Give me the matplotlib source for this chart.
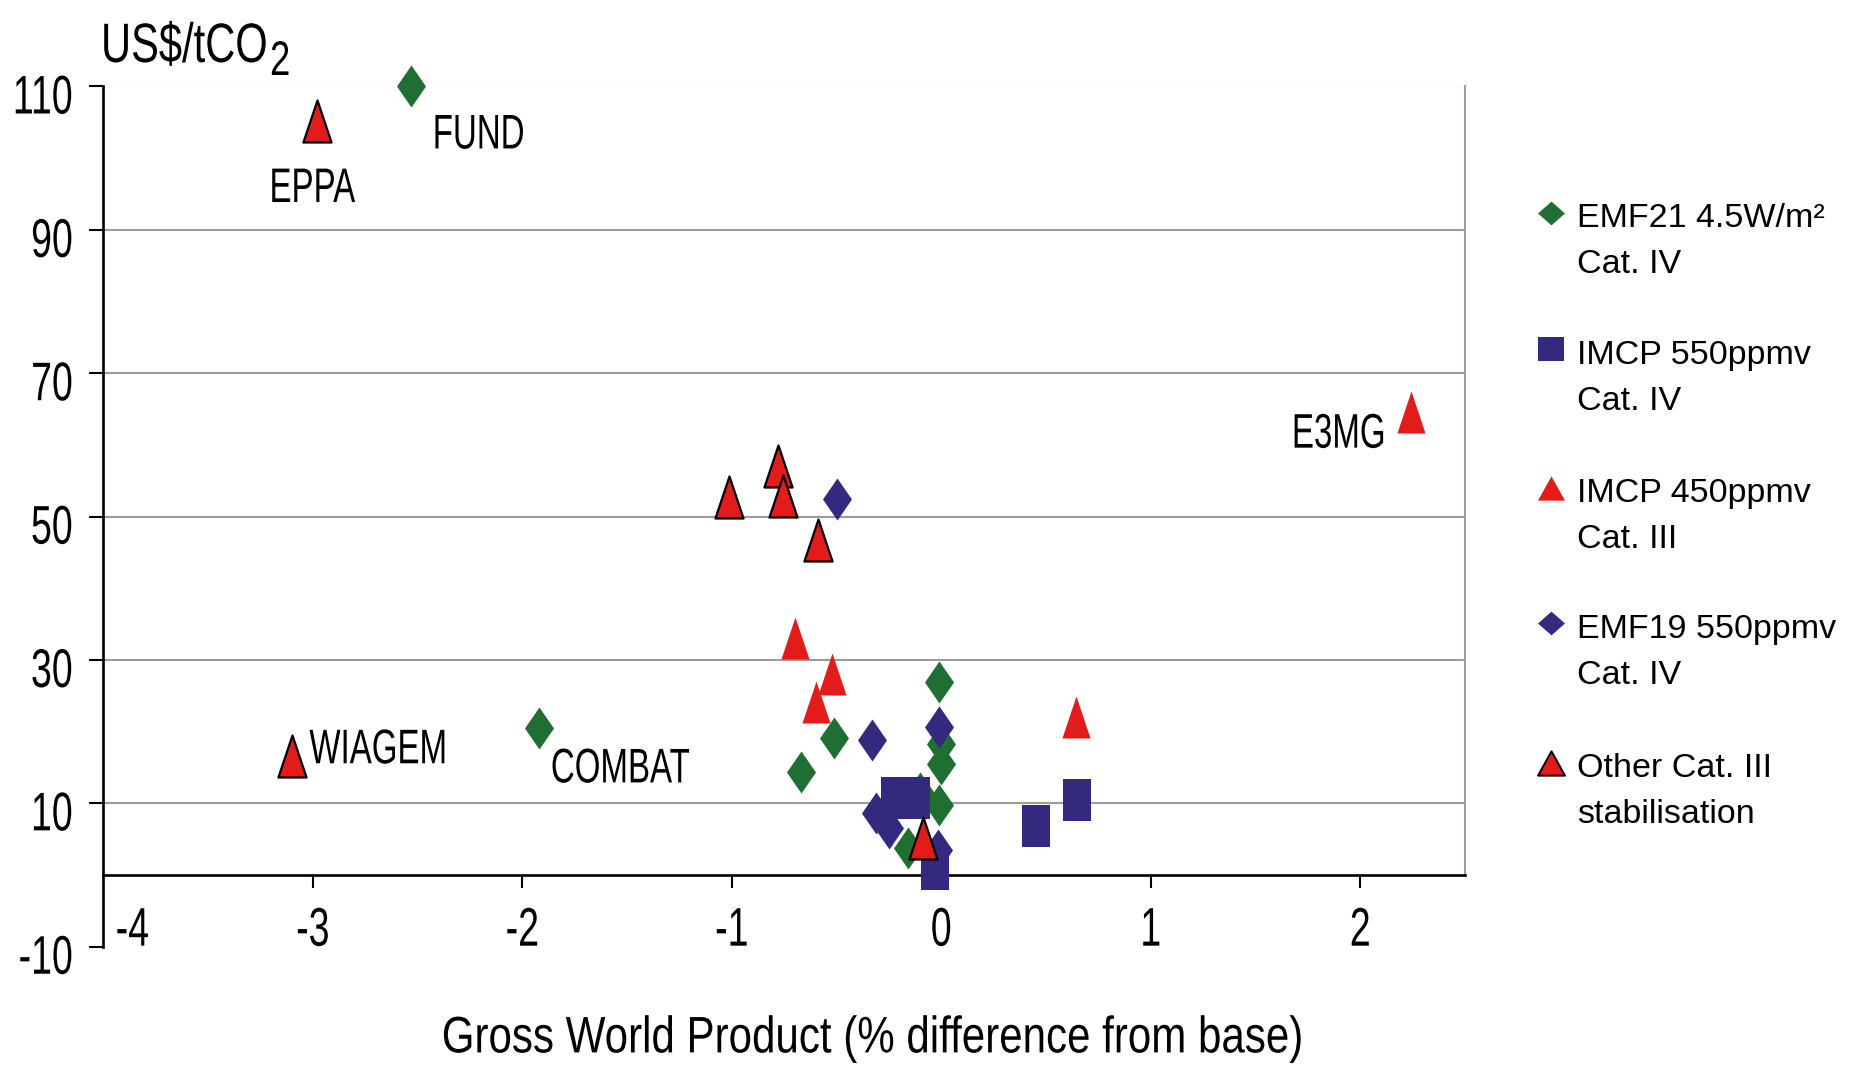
import matplotlib
matplotlib.use("Agg")
import matplotlib.pyplot as plt
from matplotlib import font_manager
from matplotlib.lines import Line2D
from matplotlib.path import Path
from matplotlib.patheffects import AbstractPathEffect
from matplotlib.transforms import Affine2D, ScaledTranslation

# ---------------- data ----------------
# GWP change (% from base) and carbon price (US$/tCO2) per model run
emf21_x = [-2.53, -1.92, -0.51, -0.67, -0.01, 0.00, 0.00, -0.01, -0.10, -0.16]
emf21_y = [110.1, 20.5, 19.1, 14.4, 26.9, 18.3, 15.5, 9.7, 11.5, 3.7]

imcp550_x = [-0.22, -0.12, -0.03, 0.45, 0.65]
imcp550_y = [10.7, 10.7, 0.8, 6.9, 10.4]

imcp450_x = [-0.70, -0.52, -0.60, 0.645, 2.24]
imcp450_y = [33.0, 28.0, 24.2, 22.0, 64.6]

emf19_x = [-0.50, -0.33, -0.01, -0.31, -0.25, -0.015]
emf19_y = [52.4, 18.9, 20.6, 8.7, 6.5, 3.5]

other_x = [-2.98, -3.10, -1.015, -0.78, -0.756, -0.59, -0.087]
other_y = [105.2, 16.6, 52.8, 57.1, 52.9, 46.7, 5.2]

x_ticks = [-4, -3, -2, -1, 0, 1, 2]
y_ticks = [-10, 10, 30, 50, 70, 90, 110]

legend_labels = [
    ("EMF21 4.5W/m\u00b2", "Cat. IV"),
    ("IMCP 550ppmv", "Cat. IV"),
    ("IMCP 450ppmv", "Cat. III"),
    ("EMF19 550ppmv", "Cat. IV"),
    ("Other Cat. III", "stabilisation"),
]

# model names: (label, series, index)
model_names = [
    ("EPPA", "other", 0),
    ("WIAGEM", "other", 1),
    ("FUND", "emf21", 0),
    ("COMBAT", "emf21", 1),
    ("E3MG", "imcp450", 4),
]

# ---------------- style ----------------
GREEN = "#1f6e32"
NAVY = "#33297e"
RED = "#e21b1b"
GRID = "#9c9c9c"

available = {f.name for f in font_manager.fontManager.ttflist}
SANS = "Liberation Sans" if "Liberation Sans" in available else "DejaVu Sans"

plt.rcParams["axes.unicode_minus"] = False
plt.rcParams["font.family"] = [SANS, "DejaVu Sans"]


class Tall(AbstractPathEffect):
    """Draw text glyphs stretched vertically about their baseline (a condensed look)."""

    def __init__(self, sy):
        super().__init__()
        self.sy = sy

    def draw_path(self, renderer, gc, tpath, affine, rgbFace=None):
        renderer.draw_path(gc, tpath, Affine2D().scale(1, self.sy) + affine, rgbFace)


def poly(verts):
    codes = [Path.MOVETO] + [Path.LINETO] * (len(verts) - 1) + [Path.CLOSEPOLY]
    return Path(list(verts) + [verts[0]], codes)


# tall plot markers (about 29 x 42 px)
m_diamond = poly([(0, 1), (0.69, 0), (0, -1), (-0.69, 0)])
m_square = poly([(-0.67, -1), (0.67, -1), (0.67, 1), (-0.67, 1)])
m_triangle = poly([(0, 1), (0.67, -1), (-0.67, -1)])
# legend keys (wider, flatter)
k_diamond = poly([(0, 0.88), (1, 0), (0, -0.88), (-1, 0)])
k_square = poly([(-1, -0.88), (1, -0.88), (1, 0.88), (-1, 0.88)])
k_triangle = poly([(0, 0.9), (1, -0.9), (-1, -0.9)])

MS = 42 * 0.72  # marker height in points

W, H = 1851, 1070
fig = plt.figure(figsize=(W / 100, H / 100), dpi=100)
ax = fig.add_axes([103.3 / W, 1 - 946.7 / H, (1465 - 103.3) / W, (946.7 - 86.5) / H])
ax.set_xlim(-4, 2.5)
ax.set_ylim(-10, 110)

# frame
ax.spines["top"].set_visible(False)
ax.spines["right"].set_bounds(0, 110)
ax.spines["right"].set_color(GRID)
ax.spines["right"].set_linewidth(1.5)
ax.spines["bottom"].set_position(("data", 0))
ax.spines["left"].set_bounds(-10, 110)
for s in ("left", "bottom"):
    ax.spines[s].set_linewidth(1.9)
    ax.spines[s].set_color("black")

for v in y_ticks:
    if v > 0:
        ax.axhline(v, color=GRID, lw=1.5, zorder=0.5)

TICK_FS = 27
TICK_SY = 1.45
ax.set_xticks(x_ticks)
ax.set_xticklabels([str(t) for t in x_ticks])
ax.set_yticks(y_ticks)
ax.set_yticklabels([str(t) for t in y_ticks])
ax.tick_params(axis="x", direction="out", length=9, width=1.5, pad=21.7, labelsize=TICK_FS)
ax.tick_params(axis="y", direction="out", length=10, width=1.5, pad=12, labelsize=TICK_FS)

# condensed tick labels, nudged into place
for t in ax.yaxis.get_major_ticks():
    t.label1.set_transform(t.label1.get_transform() + ScaledTranslation(0, -0.13, fig.dpi_scale_trans))
    t.label1.set_path_effects([Tall(TICK_SY)])
for t in ax.xaxis.get_major_ticks():
    t.label1.set_path_effects([Tall(TICK_SY)])
first = ax.xaxis.get_major_ticks()[0]
first.label1.set_transform(first.label1.get_transform() + ScaledTranslation(0.29, 0, fig.dpi_scale_trans))
first.tick1line.set_visible(False)

# series (drawing order: green, squares, red, navy, outlined red)
common = dict(ls="none", ms=MS, clip_on=False)
ax.plot(emf21_x, emf21_y, marker=m_diamond, mfc=GREEN, mec=GREEN, mew=0, zorder=3, **common)
ax.plot(imcp550_x, imcp550_y, marker=m_square, mfc=NAVY, mec=NAVY, mew=0, zorder=4, **common)
ax.plot(imcp450_x, imcp450_y, marker=m_triangle, mfc=RED, mec=RED, mew=0, zorder=5, **common)
ax.plot(emf19_x, emf19_y, marker=m_diamond, mfc=NAVY, mec=NAVY, mew=0, zorder=6, **common)
ax.plot(other_x, other_y, marker=m_triangle, mfc=RED, mec="black", mew=1.6, zorder=7, **common)

series = {
    "emf21": (emf21_x, emf21_y),
    "imcp450": (imcp450_x, imcp450_y),
    "other": (other_x, other_y),
}
label_offsets = {
    "EPPA": ((-3.4, -52.3), "center"),
    "FUND": ((48.5, -39.0), "center"),
    "WIAGEM": ((12.6, 0.9), "left"),
    "COMBAT": ((58.4, -33.0), "center"),
    "E3MG": ((-18.0, -19.6), "right"),
}
for name, key, i in model_names:
    xs, ys = series[key]
    off, ha = label_offsets[name]
    ax.annotate(name, xy=(xs[i], ys[i]), xytext=off, textcoords="offset points",
                ha=ha, va="center", fontsize=23.8, zorder=8, annotation_clip=False,
                path_effects=[Tall(1.47)])

# axis titles
ax.set_xlabel("Gross World Product (% difference from base)", fontsize=30.3, va="center",
              path_effects=[Tall(1.22)])
ax.xaxis.set_label_coords((873 - 103.3) / (1465 - 103.3), (946.7 - 1041.4) / (946.7 - 86.5))
fig.text(101 / W, 1 - 62 / H, "US$/tCO", fontsize=30, ha="left", va="baseline",
         path_effects=[Tall(1.333)])
fig.text(270 / W, 1 - 75 / H, "2", fontsize=26.25, ha="left", va="baseline",
         path_effects=[Tall(1.333)])

# legend
keys = [
    (k_diamond, GREEN, GREEN, 0),
    (k_square, NAVY, NAVY, 0),
    (k_triangle, RED, RED, 0),
    (k_diamond, NAVY, NAVY, 0),
    (k_triangle, RED, "black", 1.4),
]
key_y = [212.5, 349.4, 487.5, 623.3, 762.6]
for (mk, fc, ec, ew), (l1, l2), yk in zip(keys, legend_labels, key_y):
    fig.add_artist(Line2D([1551 / W], [1 - yk / H], transform=fig.transFigure, ls="none",
                          marker=mk, ms=27 * 0.72, mfc=fc, mec=ec, mew=ew))
    fig.text(1577 / W, 1 - (yk + 6) / H, l1, fontsize=24.5, ha="left", va="center")
    fig.text(1577 / W, 1 - (yk + 52) / H, l2, fontsize=24.5, ha="left", va="center")

fig.savefig("out.png", dpi=100, facecolor="white")
